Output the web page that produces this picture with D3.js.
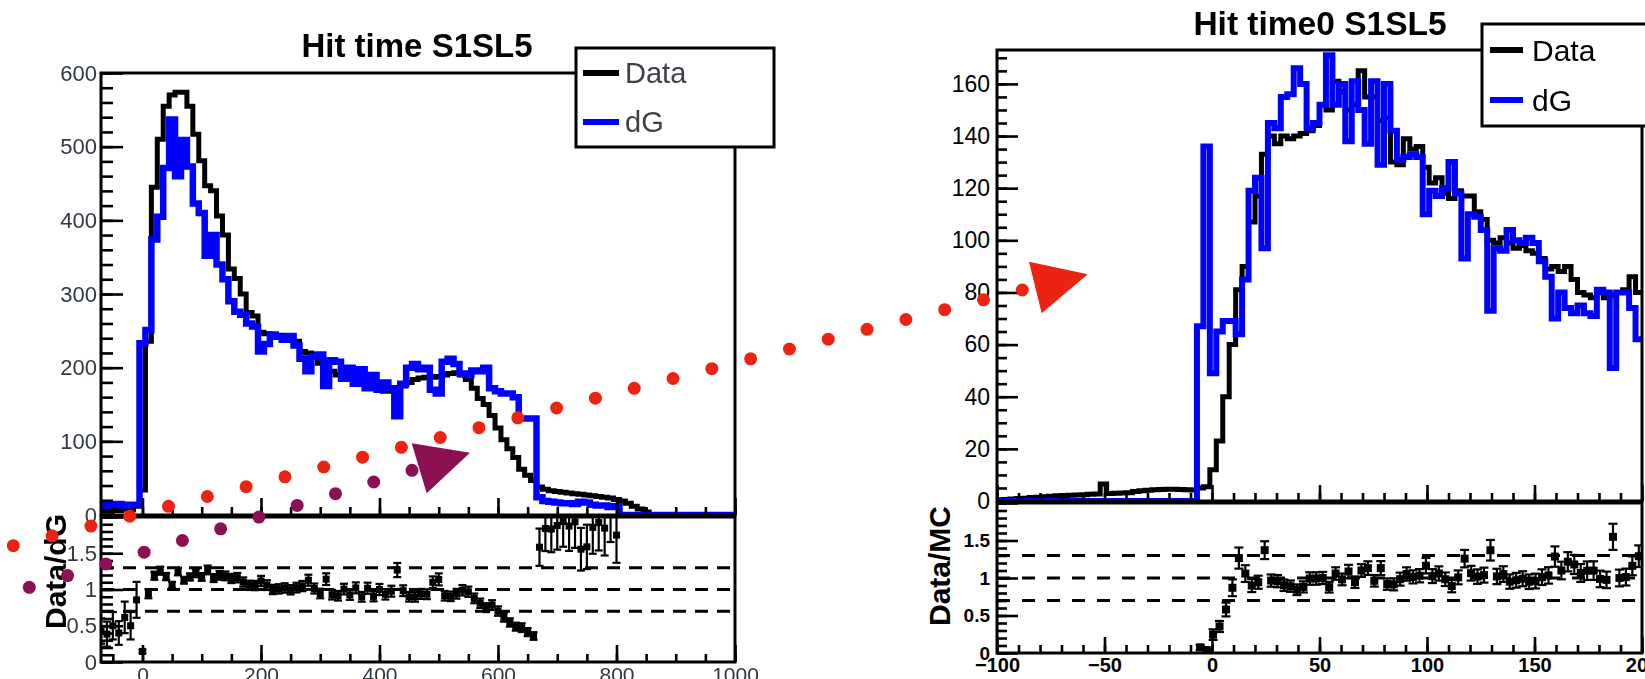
<!DOCTYPE html>
<html>
<head>
<meta charset="utf-8">
<script src="https://cdn.jsdelivr.net/npm/d3@7/dist/d3.min.js"></script>
<style>
  html, body { margin: 0; padding: 0; background: #fff; }
  svg { display: block; }
</style>
</head>
<body>
<svg id="fig" width="1645" height="679"></svg>
<script>
// ---------- "Hit time S1SL5": 10 ns bins centred on multiples of 10 ----------
const hitTimeCenters = d3.range(-70, 1001, 10);
const hitTimeData = [
  6, 5, 7, 6, 8, 7, 12,
  34, 236, 445, 510, 555, 570, 574, 574, 555, 517,
  481, 447, 440, 406, 380, 334, 321, 300, 275, 270,
  248, 246, 245, 244, 243, 242, 236, 222, 220, 218,
  206, 200, 195, 190, 186, 185, 182, 178, 175, 172,
  170, 168, 168, 170, 175, 180, 184, 186, 187, 187,
  188, 190, 192, 193, 190, 184, 172, 158, 150, 135,
  118, 102, 90, 78, 62, 54, 47, 38, 35, 33,
  32, 31, 30, 29, 28, 27, 26, 25, 24, 23,
  21, 19, 16, 12, 8, 4, 0, 0, 0, 0,
  0, 0, 0, 0, 0, 0, 0, 0, 0, 0,
  0
];
const hitTimeDG = [
  14, 13, 14, 15, 13, 14, 14,
  233, 251, 374, 405, 471, 537, 460, 509, 473, 423,
  410, 352, 380, 340, 320, 290, 276, 272, 260, 256,
  222, 232, 245, 242, 238, 243, 230, 212, 195, 215,
  218, 175, 210, 208, 185, 200, 178, 198, 172, 190,
  170, 180, 172, 134, 178, 200, 205, 198, 200, 170,
  165, 208, 212, 205, 192, 190, 196, 195, 200, 172,
  168, 165, 165, 160, 131, 131, 131, 24, 19, 18,
  17, 16, 16, 15, 18, 17, 14, 13, 13, 11,
  12, 0, 0, 0, 0, 0, 0, 0, 0, 0,
  0, 0, 0, 0, 0, 0, 0, 0, 0, 0,
  0
];
const hitTimeXMajor = [0, 200, 400, 600, 800, 1000];
const hitTimeXMinor = d3.range(-50, 1001, 50);
const hitTimeYMajor = [0, 100, 200, 300, 400, 500, 600];
const hitTimeYMinor = d3.range(0, 601, 20);

// ---------- "Hit time0 S1SL5": 3 ns bins from -100 to 200 ----------
const hitTime0LowEdges = d3.range(-100, 200, 3);
const hitTime0Data = [
  0.5, 0.6, 0.8, 1.0, 1.1, 1.3, 1.4, 1.6, 1.8, 2.0, 2.1, 2.2, 2.3, 2.4, 2.6, 2.7,
  6.5, 2.9, 3.0, 3.1, 3.2, 3.6, 3.9, 4.1, 4.3, 4.4, 4.5, 4.5, 4.4, 4.3, 4.2,
  5, 5.5, 12, 23, 40, 60, 81, 90, 107, 117,
  133, 140, 137, 140, 139, 140, 141, 142, 144, 152,
  150, 161, 157, 150, 152, 165, 155, 155, 146, 147,
  130, 129, 139, 135, 136, 128, 122, 124, 118, 116,
  119, 117, 117, 111, 108, 100, 99, 101, 99, 97,
  98, 96, 95, 93, 89, 90, 88, 90, 85, 80,
  79, 78, 80, 78, 79, 80, 81, 86, 80
];
const hitTime0DG = [
  0, 0, 0, 0, 0, 0, 0, 0, 0, 0, 0, 0, 0, 0, 0, 0,
  0, 0, 0, 0, 0, 0, 0, 0, 0, 0, 0, 0, 0, 0, 0,
  67, 136, 49, 65, 69, 69, 64, 85, 119, 124,
  97, 145, 143, 155, 156, 166, 160, 143, 145, 152,
  171, 152, 160, 138, 161, 150, 137, 161, 129, 160,
  142, 131, 132, 133, 132, 110, 119, 117, 120, 130,
  118, 93, 110, 109, 104, 73, 97, 96, 104, 100,
  99, 101, 99, 92, 86, 70, 80, 74, 72, 75,
  72, 71, 81, 80, 51, 80, 80, 74, 62
];
const hitTime0XMajor = [-100, -50, 0, 50, 100, 150, 200];
const hitTime0XMinor = d3.range(-100, 201, 10);
const hitTime0YMajor = [0, 20, 40, 60, 80, 100, 120, 140, 160];
const hitTime0YMinor = d3.range(0, 171, 5);

// ratio pads (both figures)
const ratioMajor = [0, 0.5, 1, 1.5, 2];
const ratioMinor = d3.range(0, 2.001, 0.1);
const ratioGuides = [0.7, 1.0, 1.3];
const seriesNames = ["Data", "dG"];

// ---------- drawing ----------
const W = 1645, H = 679;
const svg = d3.select("#fig");
svg.append("rect").attr("width", W).attr("height", H).attr("fill", "#fff");
const defs = svg.append("defs");
defs.append("filter").attr("id", "soft").attr("x", "-5%").attr("y", "-5%").attr("width", "110%").attr("height", "110%")
  .append("feGaussianBlur").attr("stdDeviation", 0.65);

const FONT = "'Liberation Sans', Arial, Helvetica, sans-serif";

function drawFigure(root, cfg) {
  const b = cfg.box;
  const x = d3.scaleLinear().domain(cfg.xDomain).range([b.x0, b.x1]);
  const y = d3.scaleLinear().domain(cfg.yDomain).range([b.yBase, b.yTop]);
  const r = d3.scaleLinear().domain([0, 2]).range([b.rBot, b.rTop]);

  defs.append("clipPath").attr("id", cfg.id + "-main").append("rect")
    .attr("x", b.x0).attr("y", b.yTop).attr("width", b.x1 - b.x0).attr("height", b.yBase - b.yTop);
  defs.append("clipPath").attr("id", cfg.id + "-ratio").append("rect")
    .attr("x", b.x0).attr("y", b.rTop).attr("width", b.x1 - b.x0).attr("height", b.rBot - b.rTop);

  // step outlines of both histograms
  const stepPts = vals => cfg.bins.flatMap((bn, i) => [[bn[0], vals[i]], [bn[1], vals[i]]]);
  const line = d3.line().x(d => x(d[0])).y(d => y(d[1]));
  const hg = root.append("g").attr("clip-path", `url(#${cfg.id}-main)`);
  hg.append("path").attr("d", line(stepPts(cfg.data)))
    .attr("fill", "none").attr("stroke", "#000").attr("stroke-width", cfg.dataWidth)
    .attr("stroke-linejoin", "miter");
  hg.append("path").attr("d", line(stepPts(cfg.dg)))
    .attr("fill", "none").attr("stroke", "#0000ff").attr("stroke-width", cfg.dgWidth)
    .attr("stroke-linejoin", "miter");

  // ratio pad: guide lines and Data/MC points
  const rg = root.append("g").attr("clip-path", `url(#${cfg.id}-ratio)`);
  rg.selectAll("line.guide").data(ratioGuides).join("line")
    .attr("x1", b.x0).attr("x2", b.x1).attr("y1", d => r(d)).attr("y2", d => r(d))
    .attr("stroke", "#000").attr("stroke-width", 3).attr("stroke-dasharray", cfg.dash);

  const pts = cfg.bins.map((bn, i) => ({ c: (bn[0] + bn[1]) / 2, d: cfg.data[i], m: cfg.dg[i] }))
    .filter(p => p.m > 0 && p.d > 0)
    .map(p => { const v = p.d / p.m; return { c: p.c, v, e: v / Math.sqrt(p.d) }; });
  const cap = cfg.cap, ms = cfg.marker;
  rg.selectAll("line.err").data(pts).join("line")
    .attr("x1", d => x(d.c)).attr("x2", d => x(d.c))
    .attr("y1", d => r(d.v - d.e)).attr("y2", d => r(d.v + d.e))
    .attr("stroke", "#000").attr("stroke-width", 2.2);
  rg.selectAll("line.capLo").data(pts).join("line")
    .attr("x1", d => x(d.c) - cap / 2).attr("x2", d => x(d.c) + cap / 2)
    .attr("y1", d => r(d.v - d.e)).attr("y2", d => r(d.v - d.e))
    .attr("stroke", "#000").attr("stroke-width", 2.2);
  rg.selectAll("line.capHi").data(pts).join("line")
    .attr("x1", d => x(d.c) - cap / 2).attr("x2", d => x(d.c) + cap / 2)
    .attr("y1", d => r(d.v + d.e)).attr("y2", d => r(d.v + d.e))
    .attr("stroke", "#000").attr("stroke-width", 2.2);
  rg.selectAll("rect.mk").data(pts).join("rect")
    .attr("x", d => x(d.c) - ms / 2).attr("y", d => r(d.v) - ms / 2)
    .attr("width", ms).attr("height", ms).attr("fill", "#000");

  // frames
  root.append("rect").attr("x", b.x0).attr("y", b.yTop).attr("width", b.x1 - b.x0).attr("height", b.yBase - b.yTop)
    .attr("fill", "none").attr("stroke", "#000").attr("stroke-width", 3);
  root.append("rect").attr("x", b.x0).attr("y", b.rTop).attr("width", b.x1 - b.x0).attr("height", b.rBot - b.rTop)
    .attr("fill", "none").attr("stroke", "#000").attr("stroke-width", 3);

  // axes (ROOT style: ticks pointing into the frame)
  const styleText = (sel, st) => sel.selectAll("text")
    .attr("font-family", FONT).attr("font-size", st.size).attr("font-weight", st.weight)
    .attr("fill", st.color);
  const strip = a => a.select(".domain").remove();
  const tickW = a => a.selectAll(".tick line").attr("stroke", "#000").attr("stroke-width", 2.6);

  [b.yBase, b.rBot].forEach((yy, k) => {
    root.append("g").attr("transform", `translate(0,${yy})`)
      .call(d3.axisBottom(x).tickValues(cfg.xMinor).tickSize(-cfg.xMinLen).tickFormat(""))
      .call(strip).call(tickW);
    const ax = root.append("g").attr("transform", `translate(0,${yy})`)
      .call(d3.axisBottom(x).tickValues(cfg.xMajor).tickSize(-cfg.xMajLen).tickPadding(cfg.xPad)
        .tickFormat(k === 1 ? d3.format("d") : () => ""))
      .call(strip).call(tickW);
    styleText(ax, cfg.xText);
  });

  root.append("g").attr("transform", `translate(${b.x0},0)`)
    .call(d3.axisLeft(y).tickValues(cfg.yMinor).tickSize(-cfg.yMinLen).tickFormat(""))
    .call(strip).call(tickW);
  const ay = root.append("g").attr("transform", `translate(${b.x0},0)`)
    .call(d3.axisLeft(y).tickValues(cfg.yMajor).tickSize(-cfg.yMajLen).tickPadding(cfg.yPad).tickFormat(d3.format("d")))
    .call(strip).call(tickW);
  styleText(ay, cfg.yText);

  root.append("g").attr("transform", `translate(${b.x0},0)`)
    .call(d3.axisLeft(r).tickValues(ratioMinor).tickSize(-cfg.yMinLen).tickFormat(""))
    .call(strip).call(tickW);
  const ar = root.append("g").attr("transform", `translate(${b.x0},0)`)
    .call(d3.axisLeft(r).tickValues(ratioMajor).tickSize(-cfg.yMajLen).tickPadding(cfg.yPad)
      .tickFormat(d => d === 2 ? "" : String(d)))
    .call(strip).call(tickW);
  styleText(ar, cfg.rText);

  // ratio axis title
  root.append("text")
    .attr("transform", `translate(${cfg.rTitle.x},${(b.rTop + b.rBot) / 2 + cfg.rTitle.dy}) rotate(-90)`)
    .attr("text-anchor", "middle").attr("font-family", FONT).attr("font-weight", "bold")
    .attr("font-size", cfg.rTitle.size).attr("fill", "#000").text(cfg.rTitle.text);

  // title
  root.append("text").attr("x", cfg.title.x).attr("y", cfg.title.y).attr("text-anchor", "middle")
    .attr("font-family", FONT).attr("font-weight", "bold").attr("font-size", cfg.title.size)
    .attr("fill", "#000").text(cfg.title.text);

  // legend
  const L = cfg.legend;
  root.append("rect").attr("x", L.x).attr("y", L.y).attr("width", L.w).attr("height", L.h)
    .attr("fill", "#fff").attr("stroke", "#000").attr("stroke-width", 3);
  const colors = ["#000", "#0000ff"];
  seriesNames.forEach((name, i) => {
    const yy = L.rows[i];
    root.append("line").attr("x1", L.lx0).attr("x2", L.lx1).attr("y1", yy).attr("y2", yy)
      .attr("stroke", colors[i]).attr("stroke-width", 6);
    root.append("text").attr("x", L.tx).attr("y", yy).attr("dy", "0.36em")
      .attr("font-family", FONT).attr("font-size", L.size).attr("fill", L.color).text(name);
  });
}

// left figure (softer rendering)
const leftG = svg.append("g").attr("filter", "url(#soft)");
drawFigure(leftG, {
  id: "ht",
  box: { x0: 101, x1: 735, yTop: 73, yBase: 515, rTop: 517, rBot: 662 },
  xDomain: [-70, 1000], yDomain: [0, 600],
  bins: hitTimeCenters.map(c => [c - 5, c + 5]),
  data: hitTimeData, dg: hitTimeDG,
  dataWidth: 5, dgWidth: 6.5,
  dash: "13,9", cap: 8, marker: 7,
  xMajor: hitTimeXMajor, xMinor: hitTimeXMinor, xMajLen: 17, xMinLen: 8, xPad: 5,
  yMajor: hitTimeYMajor, yMinor: hitTimeYMinor, yMajLen: 22, yMinLen: 12, yPad: 4,
  xText: { size: 21, weight: "normal", color: "#333842" },
  yText: { size: 22, weight: "normal", color: "#333842" },
  rText: { size: 22, weight: "normal", color: "#333842" },
  rTitle: { x: 66, dy: -18, size: 30, text: "Data/dG" },
  title: { x: 417, y: 57, size: 33, text: "Hit time S1SL5" },
  legend: { x: 576, y: 48, w: 198, h: 99, rows: [73, 122], lx0: 583, lx1: 619, tx: 625, size: 29, color: "#3b3f48" }
});

// right figure
const rightG = svg.append("g");
drawFigure(rightG, {
  id: "ht0",
  box: { x0: 997, x1: 1642, yTop: 50, yBase: 501, rTop: 503, rBot: 653 },
  xDomain: [-100, 200], yDomain: [0, 173],
  bins: hitTime0LowEdges.map(lo => [lo, lo + 3]),
  data: hitTime0Data, dg: hitTime0DG,
  dataWidth: 5, dgWidth: 6,
  dash: "13,12", cap: 9, marker: 8,
  xMajor: hitTime0XMajor, xMinor: hitTime0XMinor, xMajLen: 16, xMinLen: 8, xPad: 5,
  yMajor: hitTime0YMajor, yMinor: hitTime0YMinor, yMajLen: 21, yMinLen: 10, yPad: 7,
  xText: { size: 20, weight: "bold", color: "#000" },
  yText: { size: 23, weight: "normal", color: "#000" },
  rText: { size: 19, weight: "bold", color: "#000" },
  rTitle: { x: 950, dy: -12, size: 30, text: "Data/MC" },
  title: { x: 1320, y: 35, size: 33.5, text: "Hit time0 S1SL5" },
  legend: { x: 1482, y: 24, w: 190, h: 102, rows: [50, 100], lx0: 1490, lx1: 1523, tx: 1532, size: 30, color: "#000" }
});

// ---------- dotted pointer annotations on top ----------
const figX = d3.scaleLinear().domain([0, 1]).range([0, W]);
const figY = d3.scaleLinear().domain([0, 1]).range([0, H]);
const pointers = [
  { color: "#ea2410", from: [0.00809, 0.80368], to: [0.62146, 0.42710], count: 27,
    head: [[0.62553, 0.38542], [0.66122, 0.40398], [0.63325, 0.46141]] },
  { color: "#8b1152", from: [0.01781, 0.86495], to: [0.25046, 0.69263], count: 11,
    head: [[0.25027, 0.65287], [0.28571, 0.66672], [0.25939, 0.72651]] }
];
const og = svg.append("g");
pointers.forEach(p => {
  const tx = d3.scaleLinear().domain([0, p.count - 1]).range([p.from[0], p.to[0]]);
  const ty = d3.scaleLinear().domain([0, p.count - 1]).range([p.from[1], p.to[1]]);
  const dots = d3.range(p.count).map(i => [tx(i), ty(i)]);
  og.append("g").selectAll("circle").data(dots).join("circle")
    .attr("cx", d => figX(d[0])).attr("cy", d => figY(d[1])).attr("r", 6.5).attr("fill", p.color);
  og.append("path")
    .attr("d", d3.line().x(d => figX(d[0])).y(d => figY(d[1])).curve(d3.curveLinearClosed)(p.head))
    .attr("fill", p.color);
});
</script>
</body>
</html>
